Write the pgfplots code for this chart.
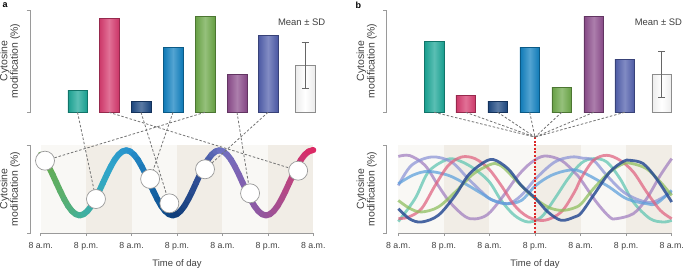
\documentclass[border=0pt]{standalone}
\usepackage{fontspec}
\setmainfont{Liberation Sans}
\usepackage{pgfplots}
\pgfplotsset{compat=1.18}
\definecolor{axgray}{HTML}{9A9A9A}
\definecolor{txt}{HTML}{404040}
\definecolor{dayc}{HTML}{F9F8F5}
\definecolor{nightc}{HTML}{F1EDE6}
\definecolor{cteal}{RGB}{26,166,150}
\definecolor{cpink}{RGB}{214,58,110}
\definecolor{cnavy}{RGB}{28,72,130}
\definecolor{cblue}{RGB}{16,128,192}
\definecolor{cgreen}{RGB}{108,168,72}
\definecolor{cpurple}{RGB}{140,76,140}
\definecolor{cindigo}{RGB}{80,94,172}
\definecolor{cwhite}{RGB}{236,236,236}
\definecolor{lteal}{RGB}{92,196,176}
\definecolor{lpink}{RGB}{224,96,127}
\definecolor{lnavy}{RGB}{42,77,148}
\definecolor{lblue}{RGB}{90,159,220}
\definecolor{lgreen}{RGB}{139,189,90}
\definecolor{lpurple}{RGB}{159,124,191}
\definecolor{lindigo}{RGB}{138,146,214}
\definecolor{reddot}{RGB}{220,40,40}
\newcommand\tl{\fontsize{8.8}{10}\selectfont}
\newcommand\lab{\fontsize{9.5}{11}\selectfont}
\newcommand\ylab{\fontsize{10.5}{10.5}\selectfont}
\tikzset{dsh/.style={draw=black!55, line width=0.8bp, dash pattern=on 2.5bp off 1.8bp}}
\pgfplotsset{
  topax/.style={anchor=south west, scale only axis, width=292bp, height=102.3bp,
    xmin=0, xmax=292, ymin=0, ymax=100, hide axis, clip=false},
  mybar/.style={ybar, bar width=19.5, bar shift=0pt, draw=#1!70!black, line width=0.4bp,
    left color=#1!95!black, right color=#1!95!black, middle color=#1!72!white},
  botax/.style={anchor=south west, scale only axis, height=88bp,
    xmin=0, xmax=72, ymin=0, ymax=100, axis x line*=bottom, axis y line=none,
    x axis line style={-, draw=axgray, line width=0.6bp},
    xtick={0,12,...,72}, xticklabels={8 a.m.,8 p.m.,8 a.m.,8 p.m.,8 a.m.,8 p.m.,8 a.m.},
    tick align=outside, major tick length=3bp, xtick style={draw=axgray, line width=0.6bp},
    xticklabel style={font=\tl, text=txt, yshift=-2.5bp}, xlabel={Time of day},
    xlabel style={font=\lab, text=txt, yshift=-2.5bp}, clip=false, axis on top},
  lc/.style={smooth, tension=0.55, line width=2.8bp, draw=#1, draw opacity=0.72}
}
\begin{document}
\begin{tikzpicture}
\useasboundingbox (0,0) rectangle (685bp,-268bp);
% panel labels
\node[anchor=base west, font=\bfseries\fontsize{9}{10}\selectfont, inner sep=0] at (2.5bp,-7.8bp) {a};
\node[anchor=base west, font=\bfseries\fontsize{9}{10}\selectfont, inner sep=0] at (355.5bp,-8.3bp) {b};
% axis brackets and y labels
\foreach \xx in {30,386.7}{
  \draw[axgray, line width=0.6bp] (\xx bp-3.5bp,-10bp) -- (\xx bp,-10bp) -- (\xx bp,-112.3bp) -- (\xx bp-3.5bp,-112.3bp);
  \draw[axgray, line width=0.6bp] (\xx bp-3.5bp,-145bp) -- (\xx bp,-145bp) -- (\xx bp,-233bp) -- (\xx bp-3.5bp,-233bp);
  \node[rotate=90, align=center, font=\ylab, text=txt, inner sep=0] at (\xx bp-20bp,-61bp) {Cytosine\\modification (\%)};
  \node[rotate=90, align=center, font=\ylab, text=txt, inner sep=0] at (\xx bp-20bp,-189bp) {Cytosine\\modification (\%)};
}
%================ PANEL A top: bars
\begin{axis}[topax, at={(30bp,-112.3bp)}]
\addplot[mybar=cteal] coordinates {(47.5,21.5)};
\addplot[mybar=cpink] coordinates {(79,91.9)};
\addplot[mybar=cnavy] coordinates {(111,10.5)};
\addplot[mybar=cblue] coordinates {(143,63.5)};
\addplot[mybar=cgreen] coordinates {(175,93.5)};
\addplot[mybar=cpurple] coordinates {(207,37.4)};
\addplot[mybar=cindigo] coordinates {(238,75.0)};
\addplot[ybar, bar width=19.5, bar shift=0pt, draw=black!45, line width=0.4bp,
  left color=cwhite, right color=cwhite, middle color=white,
  error bars/.cd, y dir=both, y explicit,
  error bar style={draw=black!60, line width=0.7bp},
  error mark options={draw=black!60, line width=0.7bp, mark size=3.5bp, rotate=90}]
  coordinates {(275,45.9) +- (0,22.3)};
\coordinate (a1) at (axis cs:47.5,0);
\coordinate (a2) at (axis cs:79,0);
\coordinate (a3) at (axis cs:111,0);
\coordinate (a4) at (axis cs:143,0);
\coordinate (a5) at (axis cs:175,0);
\coordinate (a6) at (axis cs:207,0);
\coordinate (a7) at (axis cs:238,0);
\node[font=\lab, text=txt] at (axis cs:271.7,87.6) {Mean ± SD};
\end{axis}
%================ PANEL A bottom: curve
\begin{axis}[botax, at={(40.7bp,-233bp)}, width=272.6bp,
  colormap={curvea}{rgb255=(106,170,69) rgb255=(90,175,110) rgb255=(62,176,160)
   rgb255=(48,165,200) rgb255=(40,145,205) rgb255=(20,100,165) rgb255=(15,60,120)
   rgb255=(50,80,150) rgb255=(110,115,195) rgb255=(130,95,175) rgb255=(150,85,155)
   rgb255=(185,70,130) rgb255=(220,40,100)}]
\fill[dayc] (axis cs:0,0) rectangle (axis cs:72,100);
\fill[nightc] (axis cs:12,0) rectangle (axis cs:24,100);
\fill[nightc] (axis cs:36,0) rectangle (axis cs:48,100);
\fill[nightc] (axis cs:60,0) rectangle (axis cs:72,100);
\addplot[mesh, point meta=x, line width=6bp, line cap=round, line join=round] table {
t v
0 89.0
1.08 83.2
2.1 75.5
3.13 66.6
4.15 57
5.18 47.4
6.2 38.5
7.23 30.8
8.25 25.0
9.28 21.3
10.3 20
11.33 21.3
12.35 25.0
13.38 30.8
14.4 38.5
15.43 47.4
16.45 57
17.48 66.6
18.5 75.5
19.53 83.2
20.55 89.0
21.58 92.7
22.6 94
23.63 92.7
24.65 89.0
25.68 83.2
26.7 75.5
27.73 66.6
28.75 57
29.78 47.4
30.8 38.5
31.83 30.8
32.85 25.0
33.88 21.3
34.9 20
35.93 21.3
36.95 25.0
37.98 30.8
39.0 38.5
40.03 47.4
41.05 57
42.08 66.6
43.1 75.5
44.13 83.2
45.15 89.0
46.18 92.7
47.2 94
48.23 92.7
49.25 89.0
50.28 83.2
51.3 75.5
52.33 66.6
53.35 57
54.38 47.4
55.4 38.5
56.43 30.8
57.45 25.0
58.48 21.3
59.5 20
60.53 21.3
61.55 25.0
62.58 30.8
63.6 38.5
64.63 47.4
65.65 57
66.68 66.6
67.7 75.5
68.73 83.2
69.75 89.0
70.78 92.7
71.8 94
72 94
};
\coordinate (c1) at (axis cs:1.14,82.2);
\coordinate (c2) at (axis cs:14.6,38.6);
\coordinate (c3) at (axis cs:28.9,61.4);
\coordinate (c4) at (axis cs:33.98,33.7);
\coordinate (c5) at (axis cs:43.4,72.4);
\coordinate (c6) at (axis cs:55.3,45.1);
\coordinate (c7) at (axis cs:68.0,70.8);
\end{axis}
% dashed connectors panel a
\draw[dsh] (a1) -- (c2);
\draw[dsh] (a2) -- (c7);
\draw[dsh] (a3) -- (c4);
\draw[dsh] (a4) -- (c3);
\draw[dsh] (a5) -- (c1);
\draw[dsh] (a6) -- (c6);
\draw[dsh] (a7) -- (c5);
% circles overlay
\begin{axis}[anchor=south west, at={(40.7bp,-233bp)}, scale only axis, width=272.6bp, height=88bp,
  xmin=0, xmax=72, ymin=0, ymax=100, hide axis, clip=false]
\addplot[only marks, mark=*, mark size=9.5bp, mark options={fill=white, draw=black!40, line width=0.7bp}]
  coordinates {(1.14,82.2) (14.6,38.6) (28.9,61.4) (33.98,33.7) (43.4,72.4) (55.3,45.1) (68.0,70.8)};
\end{axis}
%================ PANEL B top: bars
\begin{axis}[topax, at={(386.7bp,-112.3bp)}]
\addplot[mybar=cteal] coordinates {(47.5,69.1)};
\addplot[mybar=cpink] coordinates {(79,16.9)};
\addplot[mybar=cnavy] coordinates {(111,10.5)};
\addplot[mybar=cblue] coordinates {(143,63.5)};
\addplot[mybar=cgreen] coordinates {(175,24.4)};
\addplot[mybar=cpurple] coordinates {(207,93.5)};
\addplot[mybar=cindigo] coordinates {(238,52.1)};
\addplot[ybar, bar width=19.5, bar shift=0pt, draw=black!45, line width=0.4bp,
  left color=cwhite, right color=cwhite, middle color=white,
  error bars/.cd, y dir=both, y explicit,
  error bar style={draw=black!60, line width=0.7bp},
  error mark options={draw=black!60, line width=0.7bp, mark size=3.5bp, rotate=90}]
  coordinates {(275,37.4) +- (0,22.5)};
\coordinate (b1) at (axis cs:47.5,0);
\coordinate (b2) at (axis cs:79,0);
\coordinate (b3) at (axis cs:111,0);
\coordinate (b4) at (axis cs:143,0);
\coordinate (b5) at (axis cs:175,0);
\coordinate (b6) at (axis cs:207,0);
\coordinate (b7) at (axis cs:238,0);
\node[font=\lab, text=txt] at (axis cs:271.7,87.6) {Mean ± SD};
\end{axis}
%================ PANEL B bottom: curves
\begin{axis}[botax, at={(398.3bp,-233bp)}, width=273.4bp]
\fill[dayc] (axis cs:0,0) rectangle (axis cs:72,100);
\fill[nightc] (axis cs:12,0) rectangle (axis cs:24,100);
\fill[nightc] (axis cs:36,0) rectangle (axis cs:48,100);
\fill[nightc] (axis cs:60,0) rectangle (axis cs:72,100);
% teal
\addplot[lc=lteal] coordinates {(0,13) (4.4,39) (7.9,69.3) (12.3,82.6) (15,83.7) (19.3,75) (23.8,59) (27.1,37) (30.6,20) (34.2,12.5) (37.7,18.2) (41.2,39) (44.7,61.7) (48.2,79.5) (51.4,84.5) (54.9,80.7) (58.4,61.7) (61.9,35.2) (66.3,16.3) (69.8,12.5) (72,14.4)};
% purple
\addplot[lc=lpurple] coordinates {(0,87) (3,88) (7,77) (10.5,54) (13.6,35) (17.5,19) (20.2,16) (23.5,21) (27.1,39) (31.5,65) (35,80) (38.5,87.5) (42.9,82.6) (46.4,69) (48,61) (52.2,35) (55.7,18) (57.5,16.3) (61.9,22) (65.4,39) (69,65.5) (72,84.5)};
% lavender
\addplot[lc=lindigo] coordinates {(0,54) (3.5,77) (8.8,86.4) (14,80.7) (18.4,61.7) (22,46.6) (24.5,38) (28.9,33.3) (32.4,42.8) (36.2,61.7) (41.2,80.7) (45.6,86.4) (48.6,85) (51.4,82.6) (54.9,65.5) (59.3,46.6) (63.7,37) (67.2,35.2) (72,46.6)};
% blue
\addplot[lc=lblue] coordinates {(0,56) (4,66) (7.9,70) (13.2,65.5) (17.6,56) (22,44.7) (25,37) (28.5,33.3) (32.4,37) (36.2,54) (40.3,65.5) (44.7,71.2) (48,70) (54.9,54) (60.1,39) (65.4,33.3) (68,33.5) (72,48.5)};
% pink
\addplot[lc=lpink] coordinates {(0,16.3) (2.6,18) (6.1,27.6) (9.7,54) (13.2,76.9) (16.7,86.4) (20.2,84.5) (23.8,73) (27.1,54) (30.6,31.4) (34.2,18.2) (38.5,14.4) (42.9,23.9) (46.4,46.6) (48.2,62.5) (51.4,82.6) (54.9,88.3) (58.4,82.6) (61.9,69.3) (65.4,46.6) (69,25.7) (72,16.3)};
% green
\addplot[lc=lgreen] coordinates {(0,37) (3,28) (6.1,23.9) (10.5,29.5) (15,46.6) (19.3,65.5) (22.8,75) (25.5,79) (27.8,74) (30.6,61.7) (35,42.8) (39.4,29.5) (42.9,25.7) (46,28) (48.2,33.3) (51.4,50.4) (55.7,69.3) (59.3,78.8) (61.5,79) (65.4,73) (69,58) (72,42.8)};
% navy
\addplot[lc=lnavy, draw opacity=0.85] coordinates {(0,27.6) (3,16) (6.1,12.5) (10.5,20) (15,42.8) (18.4,65.5) (22,78.8) (25,83.5) (28.9,73) (32.4,54) (36.2,39) (39.4,23.9) (42.9,14.4) (46.4,18.2) (48.2,23) (51.4,42.8) (55.7,69.3) (59.3,81.4) (61,82.6) (64.5,78.8) (68,61.7) (72,35.2)};
\draw[reddot, line width=1.1bp, dash pattern=on 2bp off 1.6bp] (axis cs:36,109) -- (axis cs:36,0);
\coordinate (bc) at (axis cs:36,109);
\end{axis}
\foreach \i in {1,...,7}{ \draw[dsh] (b\i) -- (bc); }
\end{tikzpicture}
\end{document}
